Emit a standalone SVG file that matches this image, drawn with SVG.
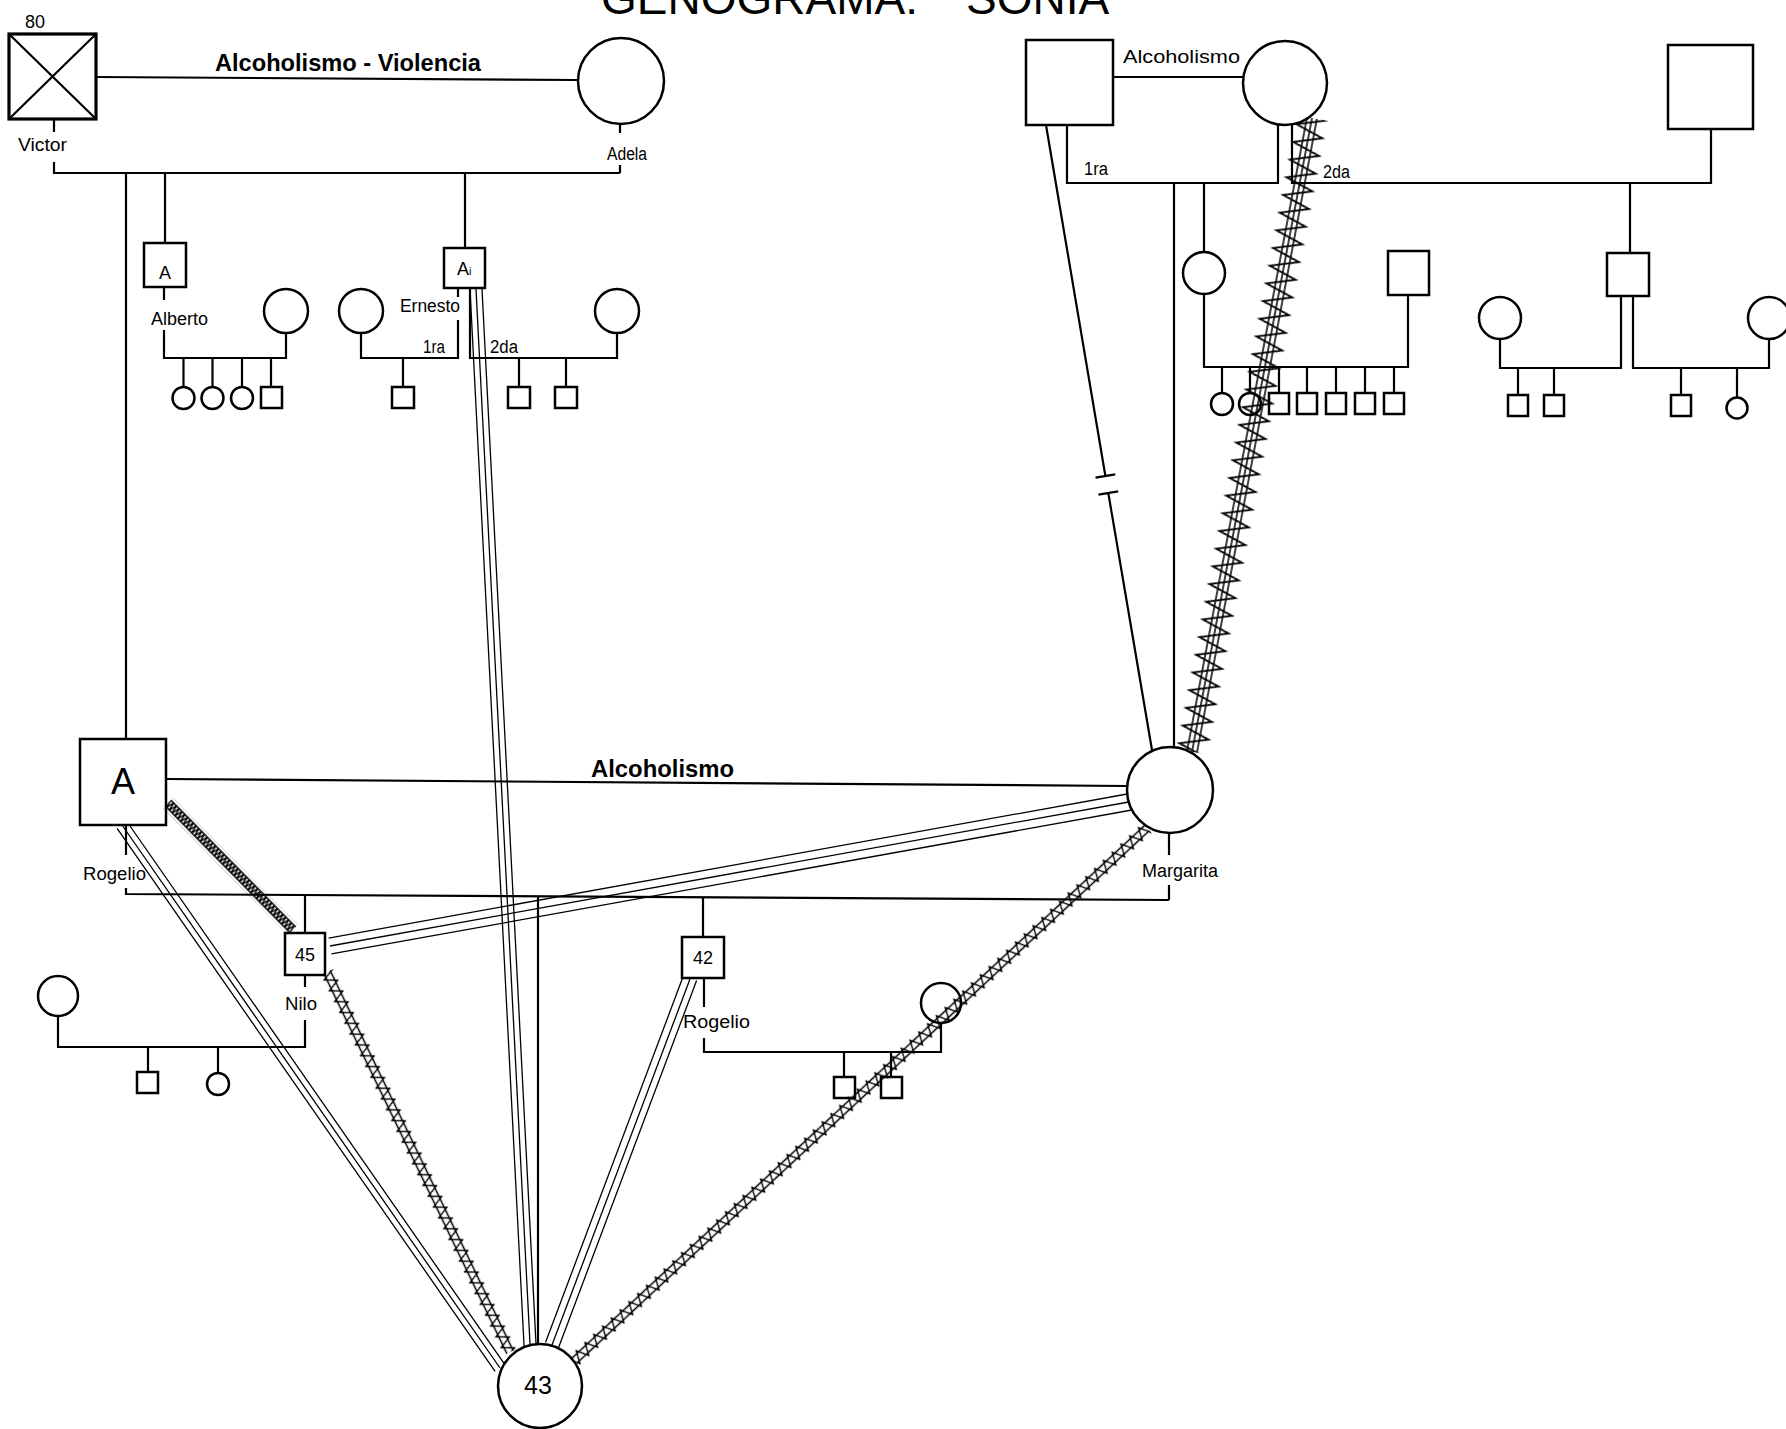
<svg xmlns="http://www.w3.org/2000/svg" width="1786" height="1429" viewBox="0 0 1786 1429">
<style>
.n{fill:#fff;stroke:#000;stroke-width:2.5}
.nb{fill:#fff;stroke:#000;stroke-width:3.2}
.ln{stroke:#000;stroke-width:2.2;fill:none}
.tl{stroke:#000;stroke-width:1.3;fill:none}
.t{font-family:"Liberation Sans",Arial,sans-serif;fill:#000}
.lb{font-family:"Liberation Sans",Arial,sans-serif;font-size:18px;fill:#000}
.c{text-anchor:middle}
.bd{font-weight:bold;font-size:23px}
</style>
<defs>
<pattern id="zzBig" patternUnits="userSpaceOnUse" x="0" y="-18" width="18" height="36">
<path d="M-9,32 L0,4 L9,32 L18,4 L27,32" fill="none" stroke="#000" stroke-width="1.8"/>
<path d="M0,13 H18 M0,18 H18 M0,23 H18" fill="none" stroke="#000" stroke-width="1.4"/>
</pattern>
<pattern id="zzSmall" patternUnits="userSpaceOnUse" x="0" y="-8" width="12" height="16">
<path d="M-6,14 L0,2 L6,14 L12,2 L18,14" fill="none" stroke="#000" stroke-width="1.4"/>
<path d="M0,4.5 H12 M0,11.5 H12" fill="none" stroke="#000" stroke-width="1.4"/>
</pattern>
<pattern id="zzDark" patternUnits="userSpaceOnUse" x="0" y="-6" width="4" height="12">
<path d="M-2,10 L0,2 L2,10 L4,2 L6,10" fill="none" stroke="#000" stroke-width="1.4"/>
<path d="M0,2 H4 M0,10 H4" fill="none" stroke="#000" stroke-width="1.4"/>
</pattern>
</defs>
<rect width="1786" height="1429" fill="#fff"/>
<text class="t" x="601" y="14" font-size="46">GENOGRAMA:<tspan x="966">SONIA</tspan></text>

<g id="victor"><rect class="nb" x="9" y="34" width="87" height="85"/><path class="ln" d="M9,34 L96,119 M96,34 L9,119"/><text class="lb" x="25" y="28">80</text><text class="lb" x="18" y="151" textLength="49" lengthAdjust="spacingAndGlyphs">Victor</text></g>
<g id="adela"><circle class="n" cx="621" cy="81" r="43"/><text class="lb" x="607" y="160" font-size="16" textLength="40" lengthAdjust="spacingAndGlyphs">Adela</text></g>
<g id="alberto"><rect class="n" x="144" y="243" width="42" height="44"/><text class="lb c" x="165" y="279">A</text><text class="lb" x="151" y="325" textLength="57" lengthAdjust="spacingAndGlyphs">Alberto</text></g>
<g id="alberto-esposa"><circle class="n" cx="286" cy="311" r="22"/></g>
<g id="alberto-hijos"><circle class="n" cx="183.5" cy="398" r="11"/><circle class="n" cx="212.5" cy="398" r="11"/><circle class="n" cx="242" cy="398" r="11"/><rect class="n" x="261" y="387" width="21" height="21"/></g>
<g id="ernesto"><rect class="n" x="444" y="248" width="41" height="40"/><text class="lb" x="457" y="275" font-size="19">A<tspan font-size="11">i</tspan></text><text class="lb" x="400" y="312" textLength="60" lengthAdjust="spacingAndGlyphs">Ernesto</text></g>
<g id="ernesto-esposa1"><circle class="n" cx="361" cy="311" r="22"/><text class="lb" x="423" y="353" font-size="16" textLength="22" lengthAdjust="spacingAndGlyphs">1ra</text></g>
<g id="ernesto-hijo1"><rect class="n" x="392" y="387" width="22" height="21"/></g>
<g id="ernesto-esposa2"><circle class="n" cx="617" cy="311" r="22"/><text class="lb" x="490" y="353" font-size="17" textLength="28" lengthAdjust="spacingAndGlyphs">2da</text></g>
<g id="ernesto-hijos2"><rect class="n" x="508" y="387" width="22" height="21"/><rect class="n" x="555" y="387" width="22" height="21"/></g>

<g id="abuelo-materno"><rect class="n" x="1026" y="40" width="87" height="85"/><text class="lb" x="1123" y="63" font-size="21" textLength="117" lengthAdjust="spacingAndGlyphs">Alcoholismo</text><text class="lb" x="1084" y="175" font-size="16" textLength="24" lengthAdjust="spacingAndGlyphs">1ra</text></g>
<g id="abuela-materna"><circle class="n" cx="1285" cy="83" r="42"/><text class="lb" x="1323" y="178" font-size="17" textLength="27" lengthAdjust="spacingAndGlyphs">2da</text></g>
<g id="segundo-esposo"><rect class="n" x="1668" y="45" width="85" height="84"/></g>
<g id="tia"><circle class="n" cx="1204" cy="273" r="21"/></g>
<g id="tia-esposo"><rect class="n" x="1388" y="251" width="41" height="44"/></g>
<g id="tia-hijos"><circle class="n" cx="1222" cy="404" r="11"/><circle class="n" cx="1250" cy="404" r="11"/><rect class="n" x="1269" y="393" width="20" height="21"/><rect class="n" x="1297" y="393" width="20" height="21"/><rect class="n" x="1326" y="393" width="20" height="21"/><rect class="n" x="1355" y="393" width="20" height="21"/><rect class="n" x="1384" y="393" width="20" height="21"/></g>
<g id="tio"><rect class="n" x="1607" y="253" width="42" height="43"/></g>
<g id="tio-esposa1"><circle class="n" cx="1500" cy="318" r="21"/></g>
<g id="tio-hijos1"><rect class="n" x="1508" y="395" width="20" height="21"/><rect class="n" x="1544" y="395" width="20" height="21"/></g>
<g id="tio-esposa2"><circle class="n" cx="1769" cy="318" r="21"/></g>
<g id="tio-hijos2"><rect class="n" x="1671" y="395" width="20" height="21"/><circle class="n" cx="1737" cy="408" r="10.5"/></g>

<g id="rogelio"><rect class="n" x="80" y="739" width="86" height="86"/><text class="t c" x="123" y="794" font-size="36">A</text><text class="lb" x="83" y="880" textLength="63" lengthAdjust="spacingAndGlyphs">Rogelio</text></g>
<g id="margarita"><circle class="n" cx="1170" cy="790" r="43"/><text class="lb" x="1142" y="877" textLength="76" lengthAdjust="spacingAndGlyphs">Margarita</text></g>
<g id="nilo"><rect class="n" x="285" y="933" width="40" height="42"/><text class="lb c" x="305" y="961" font-size="20">45</text><text class="lb" x="285" y="1010" textLength="32" lengthAdjust="spacingAndGlyphs">Nilo</text></g>
<g id="nilo-esposa"><circle class="n" cx="58" cy="996" r="20"/></g>
<g id="nilo-hijos"><rect class="n" x="137" y="1072" width="21" height="21"/><circle class="n" cx="218" cy="1084" r="11"/></g>
<g id="rogelio-hijo"><rect class="n" x="682" y="937" width="42" height="41"/><text class="lb c" x="703" y="964" font-size="20">42</text><text class="lb" x="683" y="1028" font-size="19" textLength="67" lengthAdjust="spacingAndGlyphs">Rogelio</text></g>
<g id="rogelio-hijo-esposa"><circle class="n" cx="941" cy="1003" r="20"/></g>
<g id="rogelio-hijo-hijos"><rect class="n" x="834" y="1077" width="21" height="21"/><rect class="n" x="881" y="1077" width="21" height="21"/></g>
<g id="sonia"><circle class="n" cx="540" cy="1386" r="42"/><text class="t c" x="538" y="1394" font-size="25">43</text></g>

<g id="connectors">
<path class="ln" d="M96,77 L577,80"/>
<text class="t bd" x="215" y="71" textLength="266" lengthAdjust="spacingAndGlyphs">Alcoholismo - Violencia</text>
<path class="ln" d="M54,119 V132 M54,162 V173 H620 M620,125 V133 M620,165 V173"/>
<path class="ln" d="M126,173 V739 M165,173 V243 M465,173 V248"/>
<path class="ln" d="M164,287 V300 M164,330 V358 H286 V333 M183.5,358 V387 M212.5,358 V387 M242,358 V387 M271,358 V387"/>
<path class="ln" d="M458,288 V297 M458,320 V358 H361 V333 M403,358 V387"/>
<path class="ln" d="M470,288 V358 H617 V333 M519,358 V387 M566,358 V387"/>
<path class="ln" d="M1113,77 H1243"/>
<path class="ln" d="M1067,125 V183 H1278 V124"/>
<path class="ln" d="M1292,124 V183 H1711 V129"/>
<path class="ln" d="M1174,183 V747 M1204,183 V252 M1630,183 V253"/>
<path class="ln" d="M1204,294 V367 H1408 V295 M1222,367 V393 M1250,367 V393 M1279,367 V393 M1307,367 V393 M1336,367 V393 M1365,367 V393 M1394,367 V393"/>
<path class="ln" d="M1621,296 V368 H1500 V339 M1518,368 V395 M1554,368 V395"/>
<path class="ln" d="M1633,296 V368 H1769 V339 M1681,368 V395 M1737,368 V397"/>
<path class="ln" d="M1046,125 L1105.4,476 M1108.3,493 L1152,750 M1095.5,477.7 L1115.3,474.3 M1098.4,494.7 L1118.2,491.3"/>
<path class="ln" d="M166,779 L1127,786"/>
<text class="t bd" x="591" y="777" textLength="143" lengthAdjust="spacingAndGlyphs">Alcoholismo</text>
<path class="ln" d="M126,825 V855 M126,888 V894 L1169,900 M1169,833 V855 M1169,885 V900"/>
<path class="ln" d="M305,895 V933 M538,896 V1344 M703,897 V937"/>
<path class="ln" d="M305,975 V987 M305,1020 V1047 H58 V1016 M148,1047 V1072 M218,1047 V1073"/>
<path class="ln" d="M704,978 V1007 M704,1038 V1052 H941 V1023 M844,1052 V1077 M891,1052 V1077"/>
<path class="tl" d="M122.7,826 L500,1368 M130,826 L504.9,1364.6 M117.1,828.4 L495.1,1371.4"/>
<path class="tl" d="M476,289 L530,1344 M482,289 L536,1343.7 M470,289 L524.1,1347"/>
<path class="tl" d="M690,979 L552,1345 M696.6,980.5 L558.6,1347.5 M682.2,979 L545.5,1342.5"/>
<path class="tl" d="M330,946 L1128.7,802 M331.4,953.9 L1131.9,810 M328.6,938.1 L1127.2,794"/>
<rect transform="translate(1312,118) rotate(100.72)" x="0" y="-18" width="645" height="36" fill="url(#zzBig)"/>
<rect transform="translate(1147,828) rotate(137.07)" x="0" y="-8" width="782" height="16" fill="url(#zzSmall)"/>
<rect transform="translate(327,972) rotate(64.29)" x="0" y="-8" width="422" height="16" fill="url(#zzSmall)"/>
<rect transform="translate(168,803) rotate(45.46)" x="0" y="-7" width="178" height="14" fill="url(#zzDark)"/>
</g>
</svg>
